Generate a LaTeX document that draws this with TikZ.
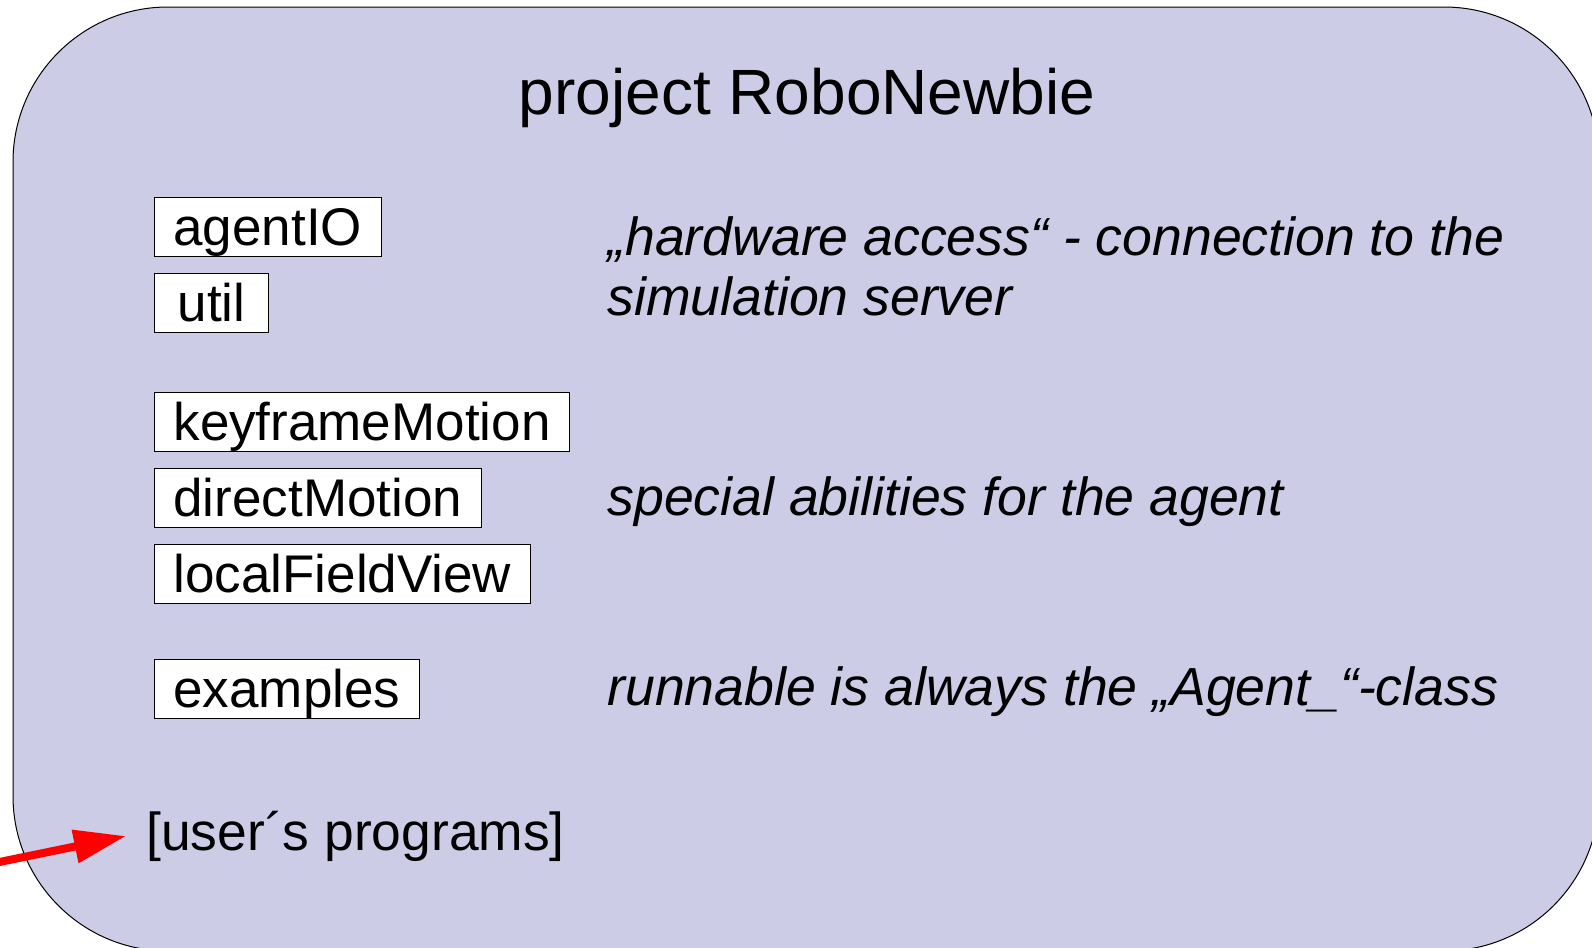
\documentclass[tikz,border=0pt]{standalone}
\usepackage{fontspec}
\setmainfont{Liberation Sans}
\usetikzlibrary{arrows.meta,positioning}
\definecolor{paneblue}{RGB}{204,204,230}
\definecolor{arrowred}{RGB}{255,0,0}
\tikzset{
    %Define standard arrow tip
    >={Triangle[length=26pt,width=16pt]},
    %Define style for the project pane
    pane/.style={
           fill=paneblue,
           draw=black, line width=0.5pt,
           rounded corners=77.5pt},
    %Define style for package boxes
    pkg/.style={
           rectangle,
           draw=black, fill=white,
           line width=0.5pt,
           inner xsep=9.5pt, inner ysep=0pt,
           text height=24pt, text depth=5.5pt,
           font=\fontsize{26.5}{31}\selectfont},
    % Define style for the notes
    note/.style={
           inner sep=0pt,
           anchor=base west,
           font=\fontsize{26.8}{31}\selectfont\itshape},
    % Define arrow style
    pil/.style={
           ->,
           draw=arrowred,
           line width=4pt}
}

\begin{document}
\begin{tikzpicture}[x=0.5pt, y=-0.5pt, node distance=8pt]
     \useasboundingbox (0,0) rectangle (1592,948);
     \draw[pane] (13,7) rectangle (1599,951);
     \node[font=\fontsize{32}{37}\selectfont, anchor=base] (title) at (807,114) {project RoboNewbie};
     \node[pkg, anchor=north west] (agentIO) at (154,197) {agentIO};
     \node[pkg, minimum width=57pt, below right=8pt and 0pt of agentIO.south west] (util) {util};
     \node[pkg, below right=29.5pt and 0pt of util.south west] (keyframeMotion) {keyframeMotion};
     \node[pkg, below right=8pt and 0pt of keyframeMotion.south west] (directMotion) {directMotion};
     \node[pkg, below right=8pt and 0pt of directMotion.south west] (localFieldView) {localFieldView};
     \node[pkg, below right=27.5pt and 0pt of localFieldView.south west] (examples) {examples};
     \node[note] (hwnote) at (607,255) {„hardware access“ - connection to the};
     \node[note] (simnote) at ([yshift=-30pt]hwnote.base west) {simulation server};
     \node[note] (abilitynote) at (607,515) {special abilities for the agent};
     \node[note] (runnote) at (607,705) {runnable is always the „Agent\_“-class};
     \node[font=\fontsize{26.7}{31}\selectfont, inner xsep=10pt, anchor=west] (userprog) at (126,836) {[user´s programs]};
     \coordinate (entry) at (-20,866);
     \draw[pil] (entry) -- (userprog.west);
\end{tikzpicture}
\end{document}
